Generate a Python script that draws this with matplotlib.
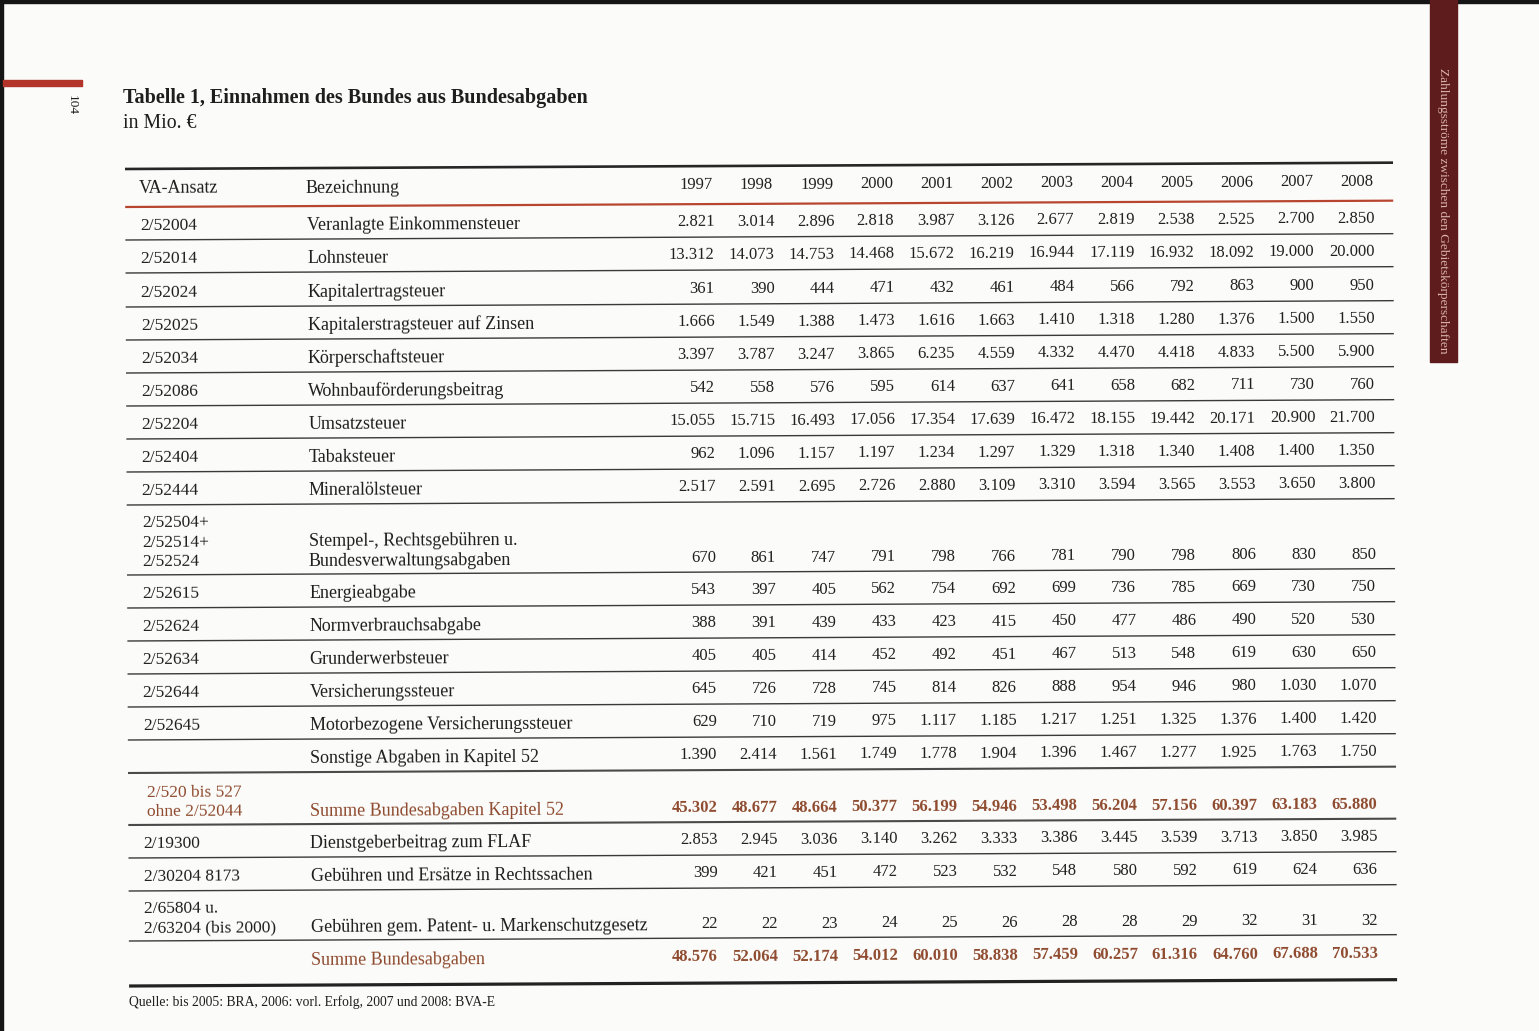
import math
import matplotlib.pyplot as plt

# Table data
years = ["1997", "1998", "1999", "2000", "2001", "2002", "2003", "2004", "2005", "2006", "2007", "2008"]

codes = [
    ["2/52004"], ["2/52014"], ["2/52024"], ["2/52025"], ["2/52034"], ["2/52086"],
    ["2/52204"], ["2/52404"], ["2/52444"], ["2/52504+", "2/52514+", "2/52524"],
    ["2/52615"], ["2/52624"], ["2/52634"], ["2/52644"], ["2/52645"], [""],
    ["2/520 bis 527", "ohne 2/52044"], ["2/19300"], ["2/30204 8173"],
    ["2/65804 u.", "2/63204 (bis 2000)"], [""],
]

names = [
    ["Veranlagte Einkommensteuer"], ["Lohnsteuer"], ["Kapitalertragsteuer"],
    ["Kapitalerstragsteuer auf Zinsen"], ["Körperschaftsteuer"], ["Wohnbauförderungsbeitrag"],
    ["Umsatzsteuer"], ["Tabaksteuer"], ["Mineralölsteuer"],
    ["Stempel-, Rechtsgebühren u.", "Bundesverwaltungsabgaben"],
    ["Energieabgabe"], ["Normverbrauchsabgabe"], ["Grunderwerbsteuer"],
    ["Versicherungssteuer"], ["Motorbezogene Versicherungssteuer"],
    ["Sonstige Abgaben in Kapitel 52"], ["Summe Bundesabgaben Kapitel 52"],
    ["Dienstgeberbeitrag zum FLAF"], ["Gebühren und Ersätze in Rechtssachen"],
    ["Gebühren gem. Patent- u. Markenschutzgesetz"], ["Summe Bundesabgaben"],
]

values = [
    [2821, 3014, 2896, 2818, 3987, 3126, 2677, 2819, 2538, 2525, 2700, 2850],
    [13312, 14073, 14753, 14468, 15672, 16219, 16944, 17119, 16932, 18092, 19000, 20000],
    [361, 390, 444, 471, 432, 461, 484, 566, 792, 863, 900, 950],
    [1666, 1549, 1388, 1473, 1616, 1663, 1410, 1318, 1280, 1376, 1500, 1550],
    [3397, 3787, 3247, 3865, 6235, 4559, 4332, 4470, 4418, 4833, 5500, 5900],
    [542, 558, 576, 595, 614, 637, 641, 658, 682, 711, 730, 760],
    [15055, 15715, 16493, 17056, 17354, 17639, 16472, 18155, 19442, 20171, 20900, 21700],
    [962, 1096, 1157, 1197, 1234, 1297, 1329, 1318, 1340, 1408, 1400, 1350],
    [2517, 2591, 2695, 2726, 2880, 3109, 3310, 3594, 3565, 3553, 3650, 3800],
    [670, 861, 747, 791, 798, 766, 781, 790, 798, 806, 830, 850],
    [543, 397, 405, 562, 754, 692, 699, 736, 785, 669, 730, 750],
    [388, 391, 439, 433, 423, 415, 450, 477, 486, 490, 520, 530],
    [405, 405, 414, 452, 492, 451, 467, 513, 548, 619, 630, 650],
    [645, 726, 728, 745, 814, 826, 888, 954, 946, 980, 1030, 1070],
    [629, 710, 719, 975, 1117, 1185, 1217, 1251, 1325, 1376, 1400, 1420],
    [1390, 2414, 1561, 1749, 1778, 1904, 1396, 1467, 1277, 1925, 1763, 1750],
    [45302, 48677, 48664, 50377, 56199, 54946, 53498, 56204, 57156, 60397, 63183, 65880],
    [2853, 2945, 3036, 3140, 3262, 3333, 3386, 3445, 3539, 3713, 3850, 3985],
    [399, 421, 451, 472, 523, 532, 548, 580, 592, 619, 624, 636],
    [22, 22, 23, 24, 25, 26, 28, 28, 29, 32, 31, 32],
    [48576, 52064, 52174, 54012, 60010, 58838, 57459, 60257, 61316, 64760, 67688, 70533],
]

sum_rows = [16, 20]

# row heights in pixels (page is a scan, so layout is in pixel units)
row_heights = [33, 33, 34, 33, 33, 33, 33, 33, 33, 70, 33, 33, 33, 33, 33, 33, 52, 33, 33, 50, 44]

FONT = "Liberation Serif"
INK = "#1e1e1e"
BROWN = "#8e4a2e"
SLOPE = 0.005  # the scan is tilted a little
ANGLE = math.degrees(math.atan(SLOPE))


def P(x, y):
    # rotate a page position to match the tilt of the scan
    return x + SLOPE * (y - 169), y - SLOPE * (x - 125)


def put(x, y, s, **kw):
    px, py = P(x, y)
    ax.text(px, py, s, rotation=ANGLE, rotation_mode="anchor", **kw)


def hline(y, x0=125, x1=1393, **kw):
    a = P(x0, y)
    b = P(x1, y)
    ax.plot([a[0], b[0]], [a[1], b[1]], solid_capstyle="butt", **kw)


def fmt(v):
    return f"{v:,}".replace(",", ".")


fig = plt.figure(figsize=(15.39, 10.31), dpi=100, facecolor="#fbfbf9")
ax = fig.add_axes([0, 0, 1, 1])
ax.set_xlim(0, 1539)
ax.set_ylim(1031, 0)
ax.axis("off")

# scan border and page decorations
ax.fill_between([0, 1539], 0, 3, color="#151515")
ax.fill_between([0, 3], 0, 1031, color="#151515")
ax.fill_between([3, 82], 80, 86, color="#b3342a")
ax.fill_between([1430, 1457], 0, 362, color="#5f1c1c")
ax.text(1443, 211, "Zahlungsströme zwischen den Gebietskörperschaften", rotation=270,
        ha="center", va="center", fontsize=9.6, family=FONT, color="#d9b2a8")
ax.text(72, 105, "104", rotation=270, ha="center", va="center", fontsize=9.5, family=FONT, color=INK)

# title
ax.text(123, 98, "Tabelle 1, Einnahmen des Bundes aus Bundesabgaben", ha="left", va="center",
        fontsize=14.5, family=FONT, weight="bold", color=INK)
ax.text(123, 124, "in Mio. €", ha="left", va="center", fontsize=14.3, family=FONT, color=INK)

col_right = [714 + 60 * i for i in range(len(years))]

# header
hline(169, lw=1.9, color="#262626")
put(139, 187, "VA-Ansatz", ha="left", va="center_baseline", fontsize=13, family=FONT, color=INK)
put(305, 187, "Bezeichnung", ha="left", va="center_baseline", fontsize=13, family=FONT, color=INK)
for xr, yr in zip(col_right, years):
    put(xr - 1, 186, yr, ha="right", va="center_baseline", fontsize=12, family=FONT, color=INK)
hline(207, lw=1.6, color="#b8452f")

# body rows
top = 207
for i in range(len(values)):
    bottom = top + row_heights[i]
    if i == len(values) - 1:
        last_y = bottom - 26
    elif len(codes[i]) == 1:
        last_y = bottom - 16
    else:
        last_y = bottom - 15
    is_sum = i in sum_rows
    color = BROWN if is_sum else INK
    for k, line in enumerate(codes[i]):
        put(140 if not is_sum else 144, last_y - (len(codes[i]) - 1 - k) * 19.3, line,
            ha="left", va="center_baseline", fontsize=12.5, family=FONT, color=color)
    for k, line in enumerate(names[i]):
        put(307, last_y - (len(names[i]) - 1 - k) * 19.3, line, ha="left", va="center_baseline",
            fontsize=13, family=FONT, color=color)
    for xr, v in zip(col_right, values[i]):
        put(xr, last_y - 1, fmt(v), ha="right", va="center_baseline", fontsize=12,
            family=FONT, color=color, weight="bold" if is_sum else "normal")
    # separator below the row
    if i == len(values) - 1:
        hline(bottom + 1, lw=2.3, color="#222222")
    elif i in (15, 16):
        hline(bottom, lw=1.5, color="#4a4a4a")
    else:
        hline(bottom, lw=1.0, color="#3a3a3a")
    top = bottom

# source note
ax.text(129, 1002, "Quelle: bis 2005: BRA, 2006: vorl. Erfolg, 2007 und 2008: BVA-E", ha="left",
        va="center", fontsize=9.8, family=FONT, color=INK)

fig.savefig("out.png", dpi=100, facecolor=fig.get_facecolor())
